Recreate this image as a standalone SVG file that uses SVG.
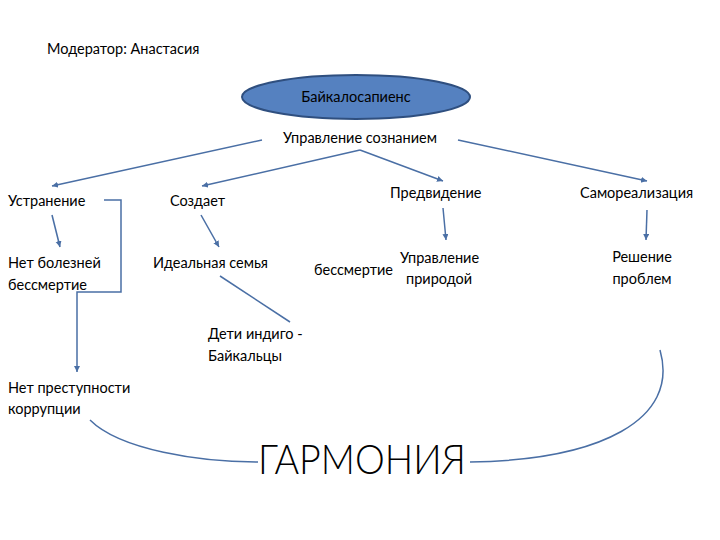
<svg xmlns="http://www.w3.org/2000/svg" width="720" height="540" viewBox="0 0 720 540">
<defs>
<marker id="a" markerWidth="8" markerHeight="8" refX="6" refY="3" orient="auto" markerUnits="userSpaceOnUse"><path d="M0,0 L6,3 L0,6 Z" fill="#4a6fa5"/></marker>
<style>
text{font-family:Lato,"Open Sans","Liberation Sans",sans-serif;font-size:14.5px;fill:#000}
.c{stroke:#4a6fa5;stroke-width:1.5;fill:none}
.m{marker-end:url(#a)}
</style>
</defs>
<rect width="720" height="540" fill="#fff"/>
<g id="moder"><text x="47" y="54">Модератор: Анастасия</text></g>
<g id="root"><ellipse cx="356" cy="97" rx="114" ry="22" fill="#5581c0" stroke="#2f4f7f" stroke-width="2"/><text x="356" y="102" text-anchor="middle">Байкалосапиенс</text></g>
<g id="upr"><text x="360" y="143" text-anchor="middle">Управление сознанием</text></g>
<g id="ustr"><text x="8" y="206">Устранение</text></g>
<g id="sozd"><text x="170" y="206">Создает</text></g>
<g id="pred"><text x="390" y="198">Предвидение</text></g>
<g id="samo"><text x="580" y="198">Самореализация</text></g>
<g id="netbol"><text x="8" y="268">Нет болезней</text><text x="8" y="290">бессмертие</text></g>
<g id="ideal"><text x="153" y="268">Идеальная семья</text></g>
<g id="bessm"><text x="314" y="275">бессмертие</text></g>
<g id="uprpr"><text x="400" y="263">Управление</text><text x="406" y="284">природой</text></g>
<g id="resh"><text x="642" y="262" text-anchor="middle">Решение</text><text x="642" y="284" text-anchor="middle">проблем</text></g>
<g id="deti"><text x="208" y="339">Дети индиго -</text><text x="208" y="361">Байкальцы</text></g>
<g id="netpr"><text x="8" y="393">Нет преступности</text><text x="8" y="414">коррупции</text></g>
<g id="garm"><text x="258" y="474" textLength="208" lengthAdjust="spacingAndGlyphs" style="font-size:42px;font-weight:300">ГАРМОНИЯ</text></g>
<g id="connectors">
<path class="c m" d="M262,140 L52,186"/>
<path class="c m" d="M360,150 L202,186"/>
<path class="c m" d="M360,150 L443,181"/>
<path class="c m" d="M458,140 L647,181"/>
<path class="c m" d="M52,215 L60,247"/>
<path class="c m" d="M201,215 L219,247"/>
<path class="c m" d="M443,208 L446,240"/>
<path class="c m" d="M647,210 L646,240"/>
<path class="c" d="M220,276 L290,322"/>
<path class="c m" d="M104,200 L121,200 L121,292 L77,292 L77,372"/>
<path class="c" d="M90,420 C120,450 200,462 258,462"/>
<path class="c" d="M470,462 C600,460 680,420 660,350"/>
</g>
</svg>
